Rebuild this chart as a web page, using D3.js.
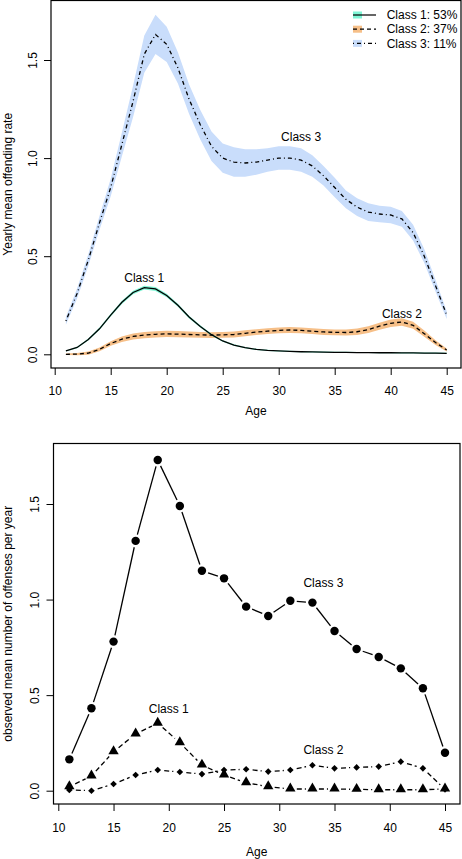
<!DOCTYPE html>
<html>
<head>
<meta charset="utf-8">
<script src="https://cdn.jsdelivr.net/npm/d3@7"></script>
<style>
  html, body { margin: 0; padding: 0; background: #fff; }
  svg { display: block; font-family: "Liberation Sans", Arial, sans-serif; }
</style>
</head>
<body>
<svg id="chart" width="462" height="859"></svg>
<script>
// ---------------- DATA ----------------
// Top panel: estimated trajectories (ages 11..45)
const agesTop = [11,12,13,14,15,16,17,18,19,20,21,22,23,24,25,26,27,28,29,30,31,32,33,34,35,36,37,38,39,40,41,42,43,44,45];
const class1Fit = [0.017,0.035,0.075,0.13,0.20,0.265,0.315,0.34,0.333,0.30,0.25,0.19,0.142,0.10,0.068,0.047,0.034,0.025,0.02,0.017,0.015,0.013,0.012,0.011,0.010,0.010,0.009,0.009,0.008,0.008,0.007,0.007,0.006,0.006,0.005];
const class1Band = [0.003,0.004,0.005,0.006,0.007,0.008,0.009,0.010,0.010,0.009,0.008,0.007,0.006,0.005,0.004,0.004,0.003,0.003,0.003,0.003,0.003,0.003,0.003,0.003,0.003,0.003,0.003,0.003,0.003,0.003,0.003,0.003,0.003,0.003,0.003];
const class2Fit = [0.0,0.001,0.006,0.025,0.055,0.077,0.091,0.098,0.102,0.104,0.103,0.101,0.099,0.098,0.099,0.101,0.107,0.113,0.118,0.122,0.124,0.122,0.118,0.114,0.112,0.111,0.115,0.126,0.143,0.158,0.165,0.148,0.105,0.06,0.022];
const class2Band = [0.004,0.006,0.008,0.010,0.012,0.014,0.015,0.016,0.016,0.016,0.016,0.015,0.015,0.015,0.015,0.015,0.015,0.015,0.015,0.015,0.015,0.015,0.015,0.015,0.015,0.015,0.016,0.017,0.018,0.019,0.019,0.018,0.016,0.012,0.008];
const class3Fit = [0.17,0.31,0.48,0.67,0.85,1.07,1.29,1.53,1.63,1.58,1.46,1.30,1.17,1.06,1.00,0.98,0.975,0.98,0.99,1.00,1.00,0.99,0.96,0.91,0.85,0.79,0.75,0.725,0.715,0.71,0.69,0.62,0.50,0.35,0.20];
const class3Band = [0.02,0.025,0.03,0.035,0.045,0.06,0.08,0.095,0.10,0.09,0.08,0.075,0.075,0.075,0.075,0.075,0.07,0.065,0.06,0.06,0.06,0.06,0.055,0.05,0.05,0.045,0.045,0.045,0.042,0.042,0.04,0.04,0.035,0.03,0.02];

// Bottom panel: observed means (every second age)
const agesObs = [11,13,15,17,19,21,23,25,27,29,31,33,35,37,39,41,43,45];
const class1Obs = [0.021,0.077,0.204,0.297,0.353,0.251,0.134,0.082,0.042,0.021,0.009,0.009,0.009,0.007,0.005,0.005,0.005,0.009];
const class2Obs = [0.004,0.0,0.035,0.082,0.108,0.098,0.087,0.108,0.112,0.10,0.108,0.133,0.117,0.122,0.126,0.152,0.117,0.007];
const class3Obs = [0.164,0.431,0.78,1.307,1.73,1.49,1.151,1.111,0.963,0.914,0.994,0.984,0.836,0.741,0.70,0.64,0.536,0.199];

const xTicks = [10,15,20,25,30,35,40,45];
const yTicks = [0.0,0.5,1.0,1.5];
const legendLabels = ["Class 1: 53%","Class 2: 37%","Class 3: 11%"];
const classNames = ["Class 1","Class 2","Class 3"];
// label anchor positions in data units [age, value]
const topLabelPos = [[18,0.39],[41,0.205],[32,1.107]];
const bottomLabelPos = [[20,0.427],[34,0.213],[34,1.087]];

// ---------------- STYLE ----------------
const bandColors = ["#7ff5d5","#f6bf88","#c9ddfb"];
const topDash = [null,"4,3","1,3,4,3"];
const FONT = 12;

const svg = d3.select("#chart");

// ---------------- TOP PANEL ----------------
const T = {left:51, right:461, top:0.5, bottom:368};
const xT = d3.scaleLinear().domain([10,45]).range([54.7,446.7]);
const yT = d3.scaleLinear().domain([0,1.5]).range([354.3,60]);

const gT = svg.append("g");
const fits = [class1Fit,class2Fit,class3Fit];
const bands = [class1Band,class2Band,class3Band];

// bands (draw 3 first so smaller ones on top)
[2,1,0].forEach(k => {
  const area = d3.area()
    .x((d,i) => xT(agesTop[i]))
    .y0((d,i) => yT(fits[k][i] - bands[k][i]))
    .y1((d,i) => yT(fits[k][i] + bands[k][i]));
  gT.append("path").datum(fits[k]).attr("d", area)
    .attr("fill", bandColors[k]).attr("stroke","none");
});
[2,1,0].forEach(k => {
  const line = d3.line().x((d,i) => xT(agesTop[i])).y(d => yT(d));
  gT.append("path").datum(fits[k]).attr("d", line)
    .attr("fill","none").attr("stroke","#000").attr("stroke-width",1.3)
    .attr("stroke-dasharray", topDash[k]);
});

function drawAxes(g, x, y, box, xLabY, yLabOff, titleY, ytitle) {
  g.append("rect").attr("x",box.left).attr("y",box.top)
    .attr("width",box.right-box.left).attr("height",box.bottom-box.top)
    .attr("fill","none").attr("stroke","#000").attr("stroke-width",1.2);
  const xa = g.append("g").attr("transform",`translate(0,${box.bottom})`)
    .call(d3.axisBottom(x).tickValues(xTicks).tickSize(7).tickFormat(d3.format("d")));
  xa.select(".domain").remove();
  xa.selectAll("line").attr("stroke","#000");
  xa.selectAll("text").attr("y", xLabY).attr("dy","0.35em")
    .attr("font-size",FONT).attr("font-family","Liberation Sans, Arial, sans-serif").attr("fill","#000");
  const ya = g.append("g").attr("transform",`translate(${box.left},0)`)
    .call(d3.axisLeft(y).tickValues(yTicks).tickSize(7).tickFormat(d3.format(".1f")));
  ya.select(".domain").remove();
  ya.selectAll("line").attr("stroke","#000");
  ya.selectAll("text").attr("transform","rotate(-90)").attr("x",0).attr("y",-yLabOff)
    .attr("dy","0").attr("text-anchor","middle")
    .attr("font-size",FONT).attr("font-family","Liberation Sans, Arial, sans-serif").attr("fill","#000");
  g.append("text").attr("x",(box.left+box.right)/2).attr("y",titleY)
    .attr("text-anchor","middle").attr("font-size",FONT).text("Age");
  const cy = (box.top+box.bottom)/2;
  g.append("text").attr("transform",`translate(11.5,${cy}) rotate(-90)`)
    .attr("text-anchor","middle").attr("font-size",FONT).text(ytitle);
}
drawAxes(gT, xT, yT, T, 22.7, 14, 415, "Yearly mean offending rate");

// class labels (top)
topLabelPos.forEach((p,k) => {
  gT.append("text").attr("x",xT(p[0])).attr("y",yT(p[1])).attr("dy","0.35em")
    .attr("text-anchor","middle").attr("font-size",FONT).text(classNames[k]);
});

// legend
const lg = gT.append("g");
legendLabels.forEach((lab,k) => {
  const cy = 15 + k*14.2;
  lg.append("rect").attr("x",353).attr("y",cy-3.5).attr("width",9).attr("height",7)
    .attr("fill",bandColors[k]);
  lg.append("line").attr("x1",353).attr("x2",376).attr("y1",cy).attr("y2",cy)
    .attr("stroke","#000").attr("stroke-width",1.2).attr("stroke-dasharray",topDash[k]);
  lg.append("text").attr("x",386.7).attr("y",cy).attr("dy","0.35em")
    .attr("font-size",FONT).text(lab);
});

// ---------------- BOTTOM PANEL ----------------
const B = {left:53.5, right:460, top:443.5, bottom:804};
const xB = d3.scaleLinear().domain([10,45]).range([58.3,445]);
const yB = d3.scaleLinear().domain([0,1.5]).range([790.7,504]);
const gB = svg.append("g");

const obs = [class1Obs,class2Obs,class3Obs];
const obsDash = ["5,3","5,3",null];
const GAP = 6.5;
obs.forEach((vals,k) => {
  for (let i = 0; i < vals.length-1; i++) {
    const x1 = xB(agesObs[i]), y1 = yB(vals[i]);
    const x2 = xB(agesObs[i+1]), y2 = yB(vals[i+1]);
    const len = Math.hypot(x2-x1, y2-y1);
    if (len <= 2*GAP) continue;
    const ux = (x2-x1)/len, uy = (y2-y1)/len;
    gB.append("line")
      .attr("x1", x1+ux*GAP).attr("y1", y1+uy*GAP)
      .attr("x2", x2-ux*GAP).attr("y2", y2-uy*GAP)
      .attr("stroke","#000").attr("stroke-width",1.3)
      .attr("stroke-dasharray", obsDash[k]);
  }
});
const symbols = [
  d3.symbol().type(d3.symbolTriangle).size(46),
  d3.symbol().type(d3.symbolSquare).size(22),
  d3.symbol().type(d3.symbolCircle).size(56)
];
obs.forEach((vals,k) => {
  gB.selectAll(null).data(vals).enter().append("path")
    .attr("d", symbols[k])
    .attr("transform",(d,i) => `translate(${xB(agesObs[i])},${yB(d) - (k===0?0.5:0)})` + (k===1 ? " rotate(45)" : ""))
    .attr("fill","#000");
});
drawAxes(gB, xB, yB, B, 23.3, 14.5, 856, "observed mean number of offenses per year");

bottomLabelPos.forEach((p,k) => {
  gB.append("text").attr("x",xB(p[0])).attr("y",yB(p[1])).attr("dy","0.35em")
    .attr("text-anchor","middle").attr("font-size",FONT).text(classNames[k]);
});
</script>
</body>
</html>
